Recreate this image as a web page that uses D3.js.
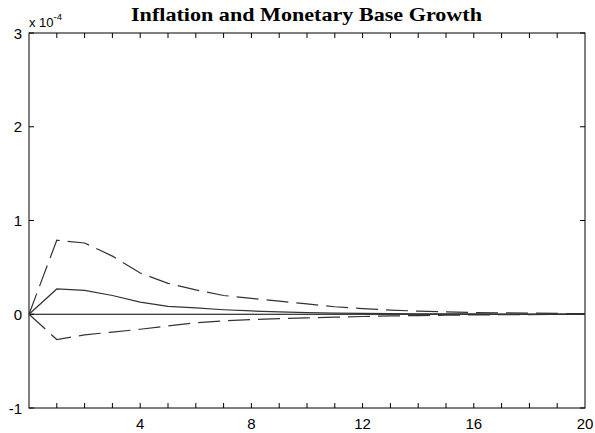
<!DOCTYPE html>
<html><head><meta charset="utf-8">
<script src="https://cdn.jsdelivr.net/npm/d3@7"></script>
<style>body{margin:0;background:#fff}</style>
</head><body>
<svg id="c" width="595" height="433"></svg>
<script>
const steps = d3.range(0, 21);
const upper = [0, 0.79, 0.76, 0.62, 0.44, 0.33, 0.26, 0.20, 0.17, 0.14, 0.11, 0.08, 0.06, 0.045, 0.033, 0.025, 0.018, 0.015, 0.012, 0.009, 0.006];
const middle = [0, 0.27, 0.255, 0.20, 0.13, 0.085, 0.067, 0.048, 0.035, 0.025, 0.018, 0.013, 0.009, 0.007, 0.005, 0.004, 0.003, 0.002, 0.0015, 0.001, 0.0005];
const lower = [0, -0.27, -0.22, -0.19, -0.16, -0.125, -0.09, -0.07, -0.057, -0.046, -0.038, -0.031, -0.024, -0.018, -0.014, -0.01, -0.007, -0.005, -0.003, -0.002, -0.001];
const yTicks = [-1, 0, 1, 2, 3];
const xLabelTicks = [4, 8, 12, 16, 20];
const title = "Inflation and Monetary Base Growth";

const svg = d3.select("#c");
const L = 29, R = 585, T = 33, B = 408;
const x = d3.scaleLinear().domain([0, 20]).range([L, R]);
const y = d3.scaleLinear().domain([-1, 3]).range([B, T]);

// frame
svg.append("rect").attr("x", L).attr("y", T).attr("width", R - L).attr("height", B - T)
  .attr("fill", "none").attr("stroke", "#000").attr("stroke-width", 1);

// ticks
const xt = d3.range(1, 20);
svg.append("g").selectAll("line.b").data(xt).join("line")
  .attr("x1", d => x(d)).attr("x2", d => x(d)).attr("y1", B).attr("y2", B - 5).attr("stroke", "#000");
svg.append("g").selectAll("line.t").data(xt).join("line")
  .attr("x1", d => x(d)).attr("x2", d => x(d)).attr("y1", T).attr("y2", T + 5).attr("stroke", "#000");
svg.append("g").selectAll("line").data(yTicks).join("line")
  .attr("x1", L).attr("x2", L + 5).attr("y1", d => y(d)).attr("y2", d => y(d)).attr("stroke", "#000");
svg.append("g").selectAll("line").data(yTicks).join("line")
  .attr("x1", R).attr("x2", R - 5).attr("y1", d => y(d)).attr("y2", d => y(d)).attr("stroke", "#000");

// labels
const fnt = "Liberation Sans, Arial, sans-serif";
svg.append("g").selectAll("text").data(yTicks).join("text")
  .attr("x", L - 7).attr("y", d => y(d) + 5.5).attr("text-anchor", "end")
  .attr("font-family", fnt).attr("font-size", 15).text(d => d);
svg.append("g").selectAll("text").data(xLabelTicks).join("text")
  .attr("x", d => x(d)).attr("y", B + 21).attr("text-anchor", "middle")
  .attr("font-family", fnt).attr("font-size", 15).text(d => d);

const ex = svg.append("text").attr("x", L).attr("y", 27)
  .attr("font-family", fnt).attr("font-size", 13);
ex.append("tspan").text("x 10");
ex.append("tspan").attr("dy", -7).attr("font-size", 9.5).text("-4");

svg.append("text").attr("x", 131).attr("y", 21)
  .attr("font-family", "Liberation Serif, Times New Roman, serif").attr("font-weight", "bold")
  .attr("font-size", 19).attr("textLength", 351).attr("lengthAdjust", "spacingAndGlyphs").text(title);

// zero line
svg.append("line").attr("x1", L).attr("x2", R).attr("y1", y(0)).attr("y2", y(0))
  .attr("stroke", "#000").attr("stroke-width", 1);

const line = d3.line().x((d, i) => x(steps[i])).y(d => y(d));
svg.append("path").datum(upper).attr("d", line).attr("fill", "none")
  .attr("stroke", "#333").attr("stroke-width", 1.2).attr("stroke-dasharray", "22,8");
svg.append("path").datum(lower).attr("d", line).attr("fill", "none")
  .attr("stroke", "#333").attr("stroke-width", 1.2).attr("stroke-dasharray", "22,8");
svg.append("path").datum(middle).attr("d", line).attr("fill", "none")
  .attr("stroke", "#333").attr("stroke-width", 1.2);
</script>
</body></html>
